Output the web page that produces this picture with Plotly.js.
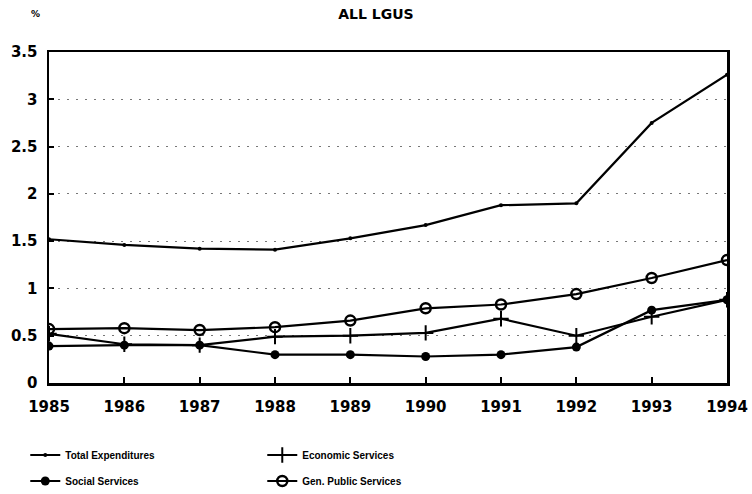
<!DOCTYPE html>
<html><head><meta charset="utf-8">
<script src="https://cdn.plot.ly/plotly-3.0.1.min.js"></script>
<style>html,body{margin:0;padding:0;background:#fff}#chart{width:752px;height:494px}</style>
</head><body><div id="chart"></div>
<script>
const years = [1985,1986,1987,1988,1989,1990,1991,1992,1993,1994];
const totalExp = [1.52,1.46,1.42,1.41,1.53,1.67,1.88,1.90,2.75,3.26];
const economic = [0.52,0.41,0.40,0.49,0.50,0.53,0.68,0.50,0.70,0.88];
const social = [0.39,0.40,0.40,0.30,0.30,0.28,0.30,0.38,0.77,0.88];
const genPublic = [0.57,0.58,0.56,0.59,0.66,0.79,0.83,0.94,1.11,1.30];
const yTicks = [0,0.5,1,1.5,2,2.5,3,3.5];
const yTickText = ['0','0.5','1','1.5','2','2.5','3','3.5'];

const lineStyle = {color:'#000', width:2.2};
const traces = [
  {x:years, y:totalExp, name:'Total Expenditures', mode:'lines+markers', line:lineStyle,
   marker:{symbol:'circle', size:4, color:'#000'}, legend:'legend'},
  {x:years, y:economic, name:'Economic Services', mode:'lines+markers', line:lineStyle,
   marker:{symbol:'cross-thin', size:11, line:{color:'#000', width:2}}, legend:'legend'},
  {x:years, y:social, name:'Social Services', mode:'lines+markers', line:lineStyle,
   marker:{symbol:'circle', size:9, color:'#000'}, legend:'legend2'},
  {x:years, y:genPublic, name:'Gen. Public Services', mode:'lines+markers', line:lineStyle,
   marker:{symbol:'circle-open', size:10, color:'#000', line:{color:'#000', width:2.5}}, legend:'legend2'}
];

const tickFont = {size:15, family:'DejaVu Sans, sans-serif', weight:'bold', color:'#000'};
const legFont = {size:10, family:'Liberation Sans, sans-serif', weight:'bold', color:'#000'};
const legCommon = {orientation:'h', xanchor:'left', yanchor:'middle', x:-0.035,
  entrywidth:192, entrywidthmode:'pixels', traceorder:'normal', font:legFont,
  itemwidth:30, bgcolor:'rgba(0,0,0,0)'};

const layout = {
  width:752, height:494,
  margin:{l:49, r:25, t:52, b:111, autoexpand:false},
  paper_bgcolor:'#fff', plot_bgcolor:'#fff',
  font:{family:'DejaVu Sans, sans-serif', color:'#000'},
  showlegend:true,
  title:{text:'<b>ALL LGUS</b>', x:0.5, xanchor:'center', y:0.972, yanchor:'middle',
    font:{size:14, family:'DejaVu Sans, sans-serif', color:'#000'}},
  xaxis:{range:[1985,1994], tickvals:years, ticktext:years.map(String),
    showline:true, linecolor:'#000', linewidth:2.5, mirror:true,
    ticks:'inside', ticklen:6, tickwidth:2, tickcolor:'#000',
    ticklabelstandoff:8,
    showgrid:false, zeroline:false, tickfont:tickFont},
  yaxis:{range:[0,3.5], tickvals:yTicks, ticktext:yTickText,
    showline:true, linecolor:'#000', linewidth:2.5, mirror:true,
    ticks:'inside', ticklen:5, tickwidth:2, tickcolor:'#000',
    ticklabelstandoff:6,
    showgrid:true, gridcolor:'#777', griddash:'2px,7px', gridwidth:1,
    zeroline:false, tickfont:tickFont},
  legend:Object.assign({y:-0.2175}, legCommon),
  legend2:Object.assign({y:-0.296}, legCommon),
  annotations:[{text:'<b>%</b>', xref:'paper', yref:'paper', x:-0.03, y:1.135,
    showarrow:false, font:{size:9, color:'#000'}}]
};
Plotly.newPlot('chart', traces, layout, {displayModeBar:false, staticPlot:true});
</script></body></html>
